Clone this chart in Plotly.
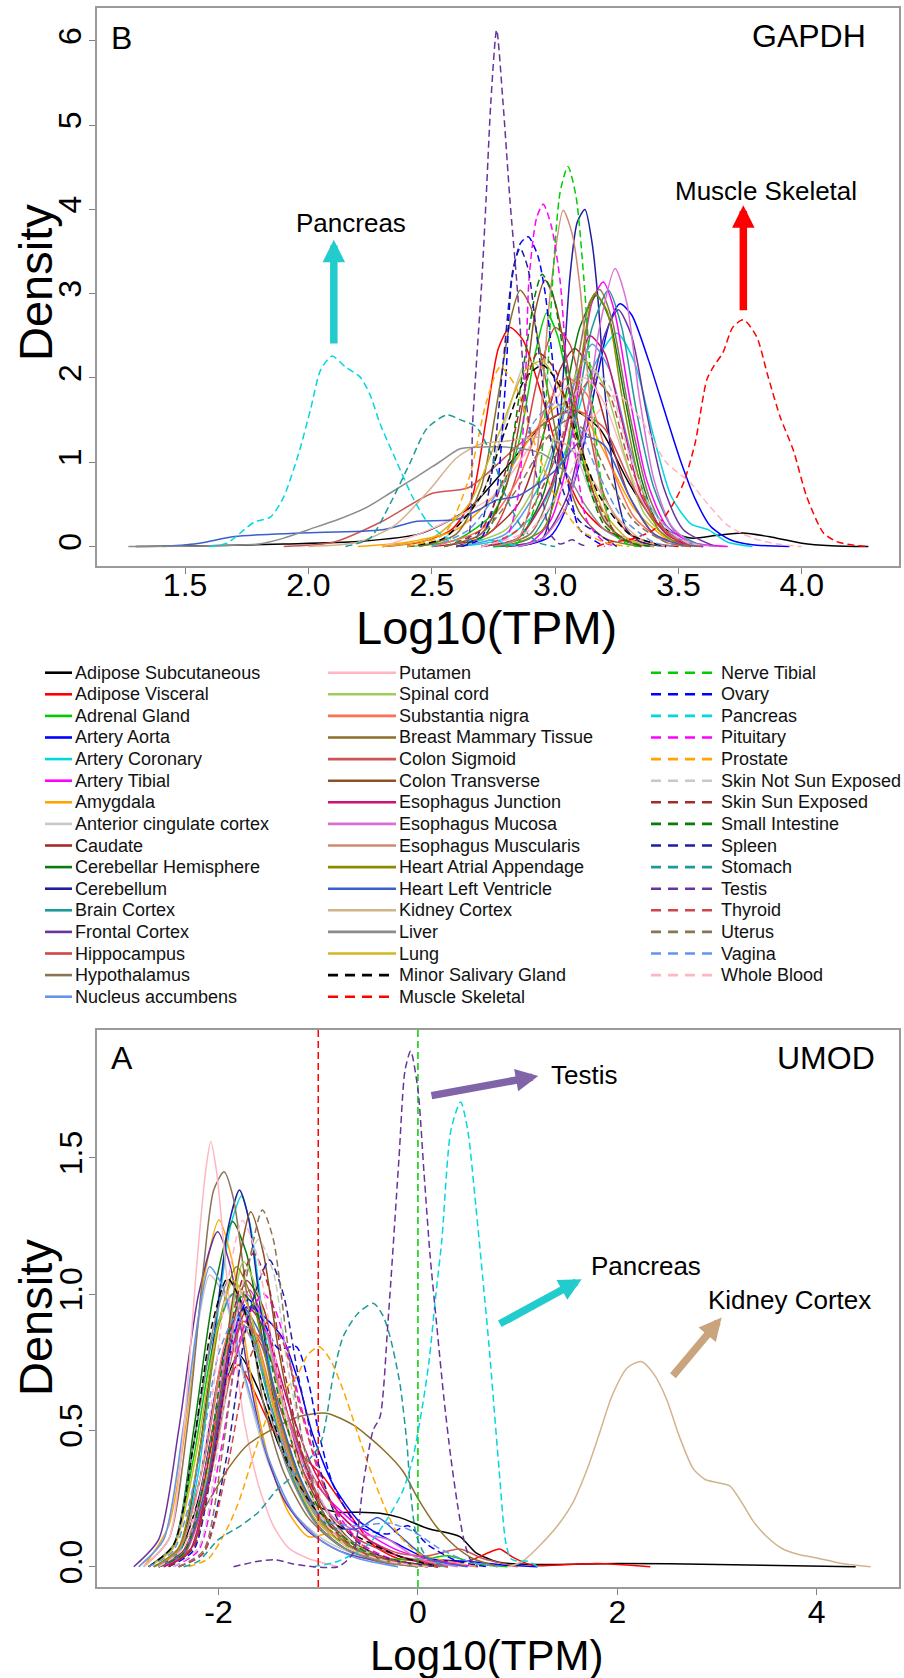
import plotly.graph_objects as go

W, H = 904, 1678
FONT = "Liberation Sans, Arial, Helvetica, sans-serif"

TISSUES = [
    "Adipose Subcutaneous", "Adipose Visceral", "Adrenal Gland", "Artery Aorta",
    "Artery Coronary", "Artery Tibial", "Amygdala", "Anterior cingulate cortex",
    "Caudate", "Cerebellar Hemisphere", "Cerebellum", "Brain Cortex",
    "Frontal Cortex", "Hippocampus", "Hypothalamus", "Nucleus accumbens",
    "Putamen", "Spinal cord", "Substantia nigra", "Breast Mammary Tissue",
    "Colon Sigmoid", "Colon Transverse", "Esophagus Junction", "Esophagus Mucosa",
    "Esophagus Muscularis", "Heart Atrial Appendage", "Heart Left Ventricle",
    "Kidney Cortex", "Liver", "Lung", "Minor Salivary Gland", "Muscle Skeletal",
    "Nerve Tibial", "Ovary", "Pancreas", "Pituitary", "Prostate",
    "Skin Not Sun Exposed", "Skin Sun Exposed", "Small Intestine", "Spleen",
    "Stomach", "Testis", "Thyroid", "Uterus", "Vagina", "Whole Blood",
]

PALETTE = [
    "#000000", "#FF0000", "#00CD00", "#0000FF", "#00D8E0", "#FF00FF", "#FFA500",
    "#C8C8C8", "#A52A2A", "#0A7A0A", "#1F1F9E", "#1E9A9A", "#68349C", "#D04545",
    "#8B7355", "#6495ED", "#FFB6C1", "#A2CD5A", "#FF6F52", "#8B6F2A", "#CD5555",
    "#8E5025", "#CD1076", "#DA70D6", "#D08A70", "#8B8B00", "#3A5FCD", "#D2B48C",
    "#8C8C8C", "#D4B420",
]
COLORS = PALETTE + PALETTE[:17]
DASHED = [False] * 30 + [True] * 17

# ---- GAPDH density curves (Log10(TPM), density) ----
GAPDH_PTS = [
    [[1.30,0],[1.6,0.01],[1.9,0.03],[2.2,0.06],[2.45,0.15],[2.65,0.45],[2.82,1.0],[2.95,1.45],[3.07,1.62],[3.18,1.4],[3.3,0.75],[3.42,0.25],[3.55,0.1],[3.65,0.13],[3.76,0.16],[3.88,0.11],[4.0,0.04],[4.12,0.01],[4.27,0]],
    [[2.3,0],[2.45,0.05],[2.58,0.2],[2.66,0.55],[2.72,1.5],[2.77,2.35],[2.817,2.6],[2.87,2.45],[2.94,1.85],[3.02,1.05],[3.1,0.5],[3.2,0.2],[3.35,0.05],[3.5,0]],
    [[2.4,0],[2.6,0.08],[2.75,0.4],[2.85,1.2],[2.92,2.3],[2.966,2.77],[3.01,2.5],[3.08,1.5],[3.15,0.6],[3.25,0.15],[3.4,0]],
    [[2.75,0],[2.9,0.03],[2.98,0.12],[3.03,0.35],[3.1,1.0],[3.17,2.0],[3.22,2.65],[3.263,2.88],[3.31,2.75],[3.38,2.2],[3.45,1.55],[3.507,1.03],[3.57,0.55],[3.63,0.24],[3.71,0.08],[3.8,0.02],[3.95,0]],
    [[2.6,0],[2.8,0.1],[2.95,0.5],[3.05,1.2],[3.15,2.1],[3.25,2.53],[3.32,2.2],[3.4,1.3],[3.47,0.6],[3.55,0.27],[3.62,0.2],[3.7,0.05],[3.8,0]],
    [[2.8,0],[2.9,0.05],[2.98,0.3],[3.05,1.0],[3.1,2.0],[3.15,2.9],[3.195,3.14],[3.24,2.8],[3.3,1.8],[3.37,0.8],[3.45,0.25],[3.55,0.05],[3.7,0]],
    [[2.2,0],[2.4,0.05],[2.6,0.2],[2.75,0.6],[2.9,1.3],[3.0,1.65],[3.05,1.7],[3.12,1.55],[3.22,1.0],[3.32,0.45],[3.45,0.1],[3.6,0]],
    [[2.4,0],[2.55,0.1],[2.7,0.6],[2.8,1.5],[2.885,2.2],[2.95,2.1],[3.05,1.4],[3.15,0.6],[3.25,0.15],[3.4,0]],
    [[2.5,0],[2.7,0.1],[2.85,0.5],[2.95,1.3],[3.02,2.1],[3.08,2.35],[3.14,2.1],[3.22,1.3],[3.3,0.6],[3.4,0.15],[3.55,0]],
    [[2.7,0],[2.85,0.1],[2.95,0.6],[3.03,1.6],[3.1,2.6],[3.168,2.98],[3.22,2.7],[3.28,1.8],[3.35,0.8],[3.42,0.25],[3.55,0]],
    [[2.85,0],[2.95,0.1],[3.0,0.7],[3.03,1.9],[3.06,3.2],[3.09,3.85],[3.121,4.0],[3.15,3.6],[3.172,3.0],[3.2,1.9],[3.24,0.8],[3.29,0.2],[3.35,0.05],[3.45,0]],
    [[2.75,0],[2.9,0.1],[3.0,0.6],[3.08,1.5],[3.15,2.6],[3.216,3.04],[3.27,2.6],[3.33,1.6],[3.4,0.7],[3.48,0.2],[3.6,0]],
    [[2.8,0],[2.95,0.1],[3.05,0.6],[3.13,1.6],[3.2,2.5],[3.256,2.81],[3.31,2.5],[3.37,1.6],[3.44,0.7],[3.52,0.2],[3.65,0]],
    [[2.6,0],[2.75,0.2],[2.85,0.9],[2.93,2.0],[3.0,2.6],[3.06,2.4],[3.13,1.5],[3.2,0.6],[3.3,0.15],[3.45,0]],
    [[2.75,0],[2.9,0.15],[3.0,0.8],[3.08,2.0],[3.14,2.9],[3.18,3.05],[3.23,2.7],[3.3,1.6],[3.38,0.6],[3.46,0.15],[3.6,0]],
    [[2.6,0],[2.8,0.15],[2.95,0.8],[3.05,1.7],[3.15,2.4],[3.22,2.1],[3.3,1.2],[3.38,0.5],[3.5,0.1],[3.6,0]],
    [[2.3,0],[2.45,0.15],[2.6,0.35],[2.75,0.6],[2.9,1.2],[3.03,1.85],[3.12,2.0],[3.2,1.7],[3.3,0.9],[3.4,0.3],[3.55,0]],
    [[2.6,0],[2.8,0.2],[2.95,0.9],[3.05,1.8],[3.12,2.2],[3.2,1.9],[3.28,1.1],[3.36,0.4],[3.48,0.05],[3.6,0]],
    [[2.5,0],[2.7,0.2],[2.85,0.8],[2.97,1.7],[3.05,2.0],[3.13,1.8],[3.22,1.0],[3.32,0.35],[3.45,0.05],[3.55,0]],
    [[2.45,0],[2.6,0.15],[2.7,0.7],[2.77,1.8],[2.82,2.7],[2.858,3.04],[2.9,2.85],[2.96,2.0],[3.03,1.0],[3.1,0.4],[3.2,0.1],[3.35,0]],
    [[1.9,0],[2.1,0.05],[2.3,0.3],[2.5,0.63],[2.65,0.7],[2.85,1.2],[3.0,1.55],[3.1,1.6],[3.2,1.4],[3.3,0.8],[3.4,0.3],[3.55,0]],
    [[2.55,0],[2.7,0.15],[2.8,0.7],[2.88,1.9],[2.92,2.8],[2.959,3.16],[3.0,2.9],[3.06,2.0],[3.13,0.9],[3.2,0.3],[3.3,0.05],[3.4,0]],
    [[2.7,0],[2.85,0.1],[2.98,0.7],[3.07,1.7],[3.14,2.5],[3.2,2.3],[3.27,1.5],[3.35,0.6],[3.45,0.15],[3.55,0]],
    [[2.85,0],[2.95,0.1],[3.05,0.5],[3.12,1.4],[3.18,2.6],[3.243,3.3],[3.29,2.9],[3.34,1.8],[3.4,0.8],[3.47,0.25],[3.55,0.05],[3.65,0]],
    [[2.75,0],[2.85,0.1],[2.9,0.5],[2.94,1.5],[2.98,3.0],[3.033,3.99],[3.07,3.7],[3.1,3.1],[3.14,1.8],[3.19,0.6],[3.25,0.12],[3.35,0]],
    [[2.8,0],[2.95,0.2],[3.03,0.9],[3.1,2.1],[3.16,3.0],[3.21,2.8],[3.27,1.8],[3.34,0.8],[3.42,0.2],[3.52,0]],
    [[1.41,0],[1.56,0.04],[1.7,0.12],[1.97,0.16],[2.3,0.2],[2.44,0.3],[2.6,0.32],[2.7,0.45],[2.76,0.55],[2.85,0.6],[3.0,0.9],[3.12,1.3],[3.2,1.2],[3.3,0.6],[3.4,0.15],[3.5,0.03],[3.6,0]],
    [[2.0,0],[2.2,0.05],[2.35,0.25],[2.49,0.67],[2.6,1.05],[2.7,1.22],[2.8,1.25],[2.95,1.3],[3.05,1.2],[3.15,0.8],[3.25,0.35],[3.35,0.08],[3.45,0]],
    [[1.27,0],[1.6,0.01],[1.8,0.03],[1.9,0.1],[2.0,0.2],[2.12,0.32],[2.24,0.47],[2.34,0.65],[2.44,0.83],[2.53,1.0],[2.615,1.16],[2.7,1.18],[2.8,1.18],[2.95,1.1],[3.05,0.85],[3.12,0.5],[3.2,0.2],[3.3,0.05],[3.4,0]],
    [[2.3,0],[2.5,0.1],[2.65,0.5],[2.78,1.4],[2.88,2.1],[2.95,2.2],[3.03,1.8],[3.12,1.0],[3.2,0.4],[3.3,0.08],[3.4,0]],
    [[2.4,0],[2.55,0.1],[2.7,0.6],[2.8,1.4],[2.88,2.0],[2.95,2.15],[3.02,1.9],[3.1,1.2],[3.18,0.6],[3.3,0.15],[3.45,0]],
    [[3.17,0],[3.22,0.05],[3.3,0.08],[3.4,0.2],[3.473,0.48],[3.52,0.75],[3.567,1.22],[3.615,1.98],[3.641,2.13],[3.68,2.3],[3.72,2.6],[3.763,2.69],[3.817,2.49],[3.86,2.05],[3.912,1.54],[3.966,1.14],[4.02,0.59],[4.088,0.16],[4.14,0.06],[4.2,0.02],[4.27,0]],
    [[2.75,0],[2.85,0.05],[2.92,0.5],[2.96,1.6],[2.99,3.16],[3.02,4.2],[3.052,4.51],[3.085,4.15],[3.117,3.16],[3.15,1.8],[3.19,0.7],[3.24,0.15],[3.3,0.02],[3.35,0]],
    [[2.62,0],[2.7,0.1],[2.76,0.6],[2.8,2.0],[2.824,3.16],[2.86,3.6],[2.891,3.675],[2.93,3.45],[2.96,3.0],[2.99,2.2],[3.03,1.1],[3.07,0.5],[3.1,0.2],[3.2,0]],
    [[1.6,0],[1.67,0.04],[1.74,0.2],[1.78,0.29],[1.846,0.35],[1.9,0.59],[1.96,1.1],[2.008,1.62],[2.05,2.1],[2.096,2.26],[2.15,2.13],[2.21,2.01],[2.25,1.8],[2.29,1.46],[2.36,0.99],[2.42,0.6],[2.48,0.3],[2.55,0.12],[2.62,0.06],[2.7,0.08],[2.76,0.07],[2.82,0.02],[2.86,0]],
    [[2.7,0],[2.8,0.1],[2.85,0.6],[2.88,2.0],[2.894,3.16],[2.925,3.9],[2.952,4.06],[2.985,3.8],[3.02,3.16],[3.05,2.0],[3.09,0.9],[3.13,0.3],[3.2,0.05],[3.25,0]],
    [[2.4,0],[2.55,0.15],[2.65,0.8],[2.72,1.7],[2.777,2.13],[2.84,1.9],[2.92,1.2],[3.0,0.6],[3.1,0.2],[3.2,0.05],[3.3,0]],
    [[2.7,0],[2.85,0.2],[2.98,0.9],[3.08,1.8],[3.15,2.1],[3.22,1.9],[3.3,1.1],[3.4,0.4],[3.5,0.1],[3.6,0]],
    [[2.55,0],[2.7,0.2],[2.8,0.9],[2.87,1.8],[2.93,2.3],[3.0,2.1],[3.08,1.3],[3.16,0.6],[3.25,0.15],[3.35,0]],
    [[2.6,0],[2.72,0.15],[2.8,0.8],[2.87,2.1],[2.92,3.0],[2.947,3.23],[2.99,3.0],[3.05,2.0],[3.12,0.9],[3.2,0.25],[3.3,0.05],[3.4,0]],
    [[2.6,0],[2.68,0.1],[2.74,0.8],[2.79,2.2],[2.83,3.3],[2.858,3.54],[2.89,3.3],[2.93,2.4],[2.98,1.3],[3.04,0.6],[3.1,0.3],[3.17,0.16],[3.25,0]],
    [[2.15,0],[2.25,0.1],[2.33,0.5],[2.41,0.98],[2.48,1.4],[2.561,1.56],[2.62,1.5],[2.68,1.42],[2.74,1.1],[2.8,0.6],[2.86,0.25],[2.93,0.05],[3.0,0]],
    [[2.6,0],[2.643,0.05],[2.666,1.48],[2.703,3.16],[2.72,4.11],[2.74,5.3],[2.763,6.13],[2.788,5.3],[2.817,4.11],[2.844,3.16],[2.88,1.8],[2.92,0.9],[2.952,0.52],[2.98,0.15],[3.02,0.03],[3.07,0.08],[3.1,0.03],[3.13,0]],
    [[2.7,0],[2.85,0.2],[2.98,0.9],[3.08,1.7],[3.15,2.0],[3.22,1.8],[3.3,1.0],[3.4,0.35],[3.5,0.05],[3.6,0]],
    [[2.55,0],[2.7,0.15],[2.85,0.7],[2.97,1.3],[3.05,1.5],[3.13,1.35],[3.22,0.8],[3.32,0.3],[3.45,0.05],[3.55,0]],
    [[2.5,0],[2.65,0.2],[2.8,0.8],[2.92,1.5],[3.0,1.7],[3.08,1.5],[3.17,0.9],[3.27,0.35],[3.4,0.05],[3.5,0]],
    [[2.7,0],[2.9,0.2],[3.05,0.8],[3.15,1.5],[3.25,1.8],[3.35,1.5],[3.45,1.0],[3.55,0.75],[3.62,0.5],[3.7,0.25],[3.8,0.1],[3.9,0.03],[4.0,0]],
]

# ---- UMOD density curves ----
UMOD_PTS = [
    [[-2.6,0],[-2.4,0.05],[-2.2,0.25],[-2.0,0.6],[-1.794,0.777],[-1.6,0.65],[-1.4,0.45],[-1.2,0.3],[-1.0,0.22],[-0.8,0.2],[-0.6,0.2],[-0.38,0.196],[-0.18,0.18],[0.1,0.14],[0.42,0.11],[0.58,0.052],[0.81,0.016],[1.2,0.008],[2.0,0.012],[3.0,0.008],[4.39,0]],
    [[-2.55,0],[-2.35,0.05],[-2.15,0.3],[-1.95,0.65],[-1.8,0.74],[-1.65,0.65],[-1.45,0.5],[-1.2,0.42],[-0.95,0.33],[-0.7,0.2],[-0.45,0.08],[-0.2,0.03],[0.2,0.02],[0.5,0.02],[0.7,0.05],[0.82,0.065],[0.95,0.035],[1.15,0.005],[1.5,0.008],[1.8,0.012],[2.1,0.006],[2.33,0]],
    [[-2.7,0],[-2.45,0.08],[-2.25,0.4],[-2.05,0.82],[-1.86,1.0],[-1.7,0.9],[-1.5,0.62],[-1.25,0.35],[-1.0,0.18],[-0.7,0.08],[-0.3,0.03],[0.1,0.03],[0.3,0.04],[0.6,0.01],[0.9,0]],
    [[-2.6,0],[-2.4,0.06],[-2.2,0.3],[-2.0,0.7],[-1.85,0.9],[-1.71,0.954],[-1.55,0.92],[-1.36,0.84],[-1.2,0.68],[-1.06,0.49],[-0.85,0.3],[-0.6,0.17],[-0.4,0.12],[-0.22,0.086],[0.1,0.03],[0.5,0.02],[0.9,0.005],[1.2,0]],
    [[-2.65,0],[-2.4,0.05],[-2.2,0.35],[-2.0,0.95],[-1.88,1.25],[-1.77,1.36],[-1.68,1.25],[-1.55,0.9],[-1.4,0.55],[-1.2,0.3],[-0.95,0.15],[-0.6,0.06],[-0.2,0.02],[0.3,0]],
    [[-2.6,0],[-2.35,0.05],[-2.1,0.3],[-1.9,0.75],[-1.69,1.015],[-1.5,0.85],[-1.3,0.55],[-1.1,0.35],[-0.9,0.25],[-0.7,0.18],[-0.5,0.12],[-0.2,0.06],[0.2,0.02],[0.6,0]],
    [[-2.75,0],[-2.5,0.15],[-2.3,0.6],[-2.15,1.05],[-1.995,1.272],[-1.85,1.1],[-1.7,0.75],[-1.5,0.4],[-1.3,0.2],[-1.1,0.11],[-0.9,0.12],[-0.7,0.08],[-0.4,0.03],[0.0,0]],
    [[-2.8,0],[-2.55,0.1],[-2.35,0.5],[-2.2,0.9],[-2.09,1.07],[-1.95,1.0],[-1.75,0.7],[-1.5,0.38],[-1.25,0.2],[-0.95,0.1],[-0.6,0.04],[-0.2,0]],
    [[-2.6,0],[-2.35,0.06],[-2.1,0.35],[-1.9,0.8],[-1.72,1.05],[-1.55,0.95],[-1.35,0.62],[-1.15,0.35],[-0.9,0.17],[-0.6,0.07],[-0.2,0.02],[0.2,0]],
    [[-2.7,0],[-2.45,0.08],[-2.25,0.5],[-2.05,1.0],[-1.86,1.266],[-1.72,1.15],[-1.55,0.82],[-1.35,0.5],[-1.1,0.25],[-0.8,0.1],[-0.4,0.03],[0.1,0]],
    [[-2.65,0],[-2.4,0.06],[-2.2,0.4],[-2.0,0.98],[-1.9,1.25],[-1.79,1.382],[-1.7,1.28],[-1.58,0.95],[-1.45,0.62],[-1.25,0.32],[-1.0,0.15],[-0.7,0.06],[-0.3,0.02],[0.1,0]],
    [[-2.7,0],[-2.45,0.08],[-2.25,0.45],[-2.05,0.85],[-1.85,1.0],[-1.68,0.9],[-1.48,0.6],[-1.25,0.32],[-1.0,0.15],[-0.7,0.06],[-0.3,0.02],[0.1,0]],
    [[-2.85,0],[-2.6,0.1],[-2.4,0.5],[-2.2,1.0],[-2.01,1.229],[-1.88,1.1],[-1.72,0.75],[-1.55,0.45],[-1.35,0.25],[-1.1,0.13],[-0.8,0.06],[-0.4,0.02],[0.0,0]],
    [[-2.6,0],[-2.35,0.05],[-2.1,0.3],[-1.9,0.72],[-1.75,0.9],[-1.58,0.82],[-1.38,0.58],[-1.15,0.35],[-0.9,0.2],[-0.6,0.1],[-0.2,0.04],[0.3,0]],
    [[-2.75,0],[-2.5,0.1],[-2.3,0.55],[-2.15,1.1],[-2.05,1.38],[-1.945,1.449],[-1.85,1.35],[-1.7,0.95],[-1.55,0.6],[-1.35,0.35],[-1.1,0.18],[-0.8,0.08],[-0.4,0.02],[0.0,0]],
    [[-2.8,0],[-2.55,0.1],[-2.35,0.52],[-2.2,0.92],[-2.09,1.1],[-1.95,1.02],[-1.75,0.72],[-1.5,0.4],[-1.25,0.2],[-0.95,0.09],[-0.6,0.03],[-0.2,0]],
    [[-2.75,0],[-2.5,0.1],[-2.35,0.5],[-2.22,1.1],[-2.13,1.45],[-2.078,1.56],[-2.02,1.45],[-1.9,1.0],[-1.75,0.55],[-1.6,0.3],[-1.45,0.15],[-1.3,0.07],[-1.1,0.03],[-0.8,0]],
    [[-2.6,0],[-2.35,0.05],[-2.1,0.35],[-1.9,0.85],[-1.75,1.12],[-1.6,1.0],[-1.42,0.68],[-1.2,0.38],[-0.95,0.18],[-0.6,0.07],[-0.2,0.02],[0.2,0]],
    [[-2.65,0],[-2.4,0.06],[-2.15,0.38],[-1.95,0.8],[-1.8,0.95],[-1.63,0.85],[-1.43,0.58],[-1.2,0.32],[-0.95,0.16],[-0.6,0.06],[-0.2,0.02],[0.2,0]],
    [[-2.6,0],[-2.45,0.04],[-2.33,0.1],[-2.1,0.24],[-1.89,0.367],[-1.7,0.45],[-1.48,0.5],[-1.2,0.55],[-0.92,0.563],[-0.65,0.52],[-0.35,0.43],[-0.15,0.35],[0.0,0.25],[0.2,0.14],[0.37,0.076],[0.55,0.03],[0.8,0]],
    [[-2.6,0],[-2.35,0.04],[-2.1,0.3],[-1.88,0.7],[-1.7,0.88],[-1.52,0.8],[-1.3,0.55],[-1.05,0.33],[-0.8,0.2],[-0.5,0.1],[-0.2,0.05],[0.1,0.04],[0.42,0.065],[0.65,0.03],[1.0,0]],
    [[-2.5,0],[-2.25,0.08],[-2.05,0.45],[-1.85,1.0],[-1.677,1.302],[-1.55,1.15],[-1.4,0.8],[-1.2,0.45],[-0.95,0.22],[-0.65,0.09],[-0.3,0.03],[0.1,0]],
    [[-2.55,0],[-2.3,0.05],[-2.08,0.35],[-1.88,0.78],[-1.7,0.95],[-1.52,0.86],[-1.3,0.6],[-1.05,0.36],[-0.8,0.2],[-0.5,0.1],[-0.2,0.04],[0.2,0]],
    [[-2.6,0],[-2.35,0.05],[-2.12,0.38],[-1.9,0.82],[-1.72,1.0],[-1.55,0.9],[-1.35,0.6],[-1.1,0.33],[-0.85,0.18],[-0.55,0.12],[-0.3,0.1],[0.0,0.03],[0.4,0]],
    [[-2.65,0],[-2.4,0.06],[-2.15,0.38],[-1.95,0.76],[-1.8,0.9],[-1.62,0.8],[-1.42,0.55],[-1.2,0.3],[-0.95,0.15],[-0.6,0.06],[-0.2,0.02],[0.2,0]],
    [[-2.65,0],[-2.4,0.07],[-2.18,0.45],[-1.98,0.92],[-1.82,1.1],[-1.66,0.98],[-1.46,0.65],[-1.22,0.35],[-0.95,0.16],[-0.6,0.06],[-0.2,0.02],[0.2,0]],
    [[-2.6,0],[-2.35,0.05],[-2.1,0.33],[-1.9,0.78],[-1.75,0.95],[-1.58,0.85],[-1.38,0.55],[-1.15,0.3],[-0.9,0.15],[-0.6,0.14],[-0.4,0.18],[-0.2,0.12],[0.1,0.03],[0.5,0]],
    [[0.91,0],[1.05,0.02],[1.22,0.077],[1.4,0.15],[1.55,0.232],[1.7,0.36],[1.82,0.489],[1.95,0.63],[2.1,0.73],[2.24,0.753],[2.36,0.71],[2.49,0.618],[2.62,0.48],[2.76,0.36],[2.88,0.32],[3.0,0.309],[3.13,0.296],[3.24,0.24],[3.36,0.168],[3.5,0.11],[3.66,0.065],[3.82,0.045],[4.0,0.032],[4.25,0.012],[4.54,0]],
    [[-2.7,0],[-2.45,0.08],[-2.25,0.45],[-2.05,0.88],[-1.9,1.05],[-1.75,0.95],[-1.55,0.65],[-1.3,0.35],[-1.05,0.17],[-0.75,0.07],[-0.35,0.02],[0.0,0]],
    [[-2.7,0],[-2.45,0.07],[-2.22,0.42],[-2.02,0.86],[-1.85,1.05],[-1.7,0.95],[-1.5,0.66],[-1.28,0.36],[-1.02,0.17],[-0.7,0.07],[-0.3,0.02],[0.1,0]],
    [[-2.7,0],[-2.45,0.08],[-2.25,0.45],[-2.07,0.88],[-1.91,1.058],[-1.75,0.95],[-1.55,0.65],[-1.3,0.38],[-1.05,0.22],[-0.8,0.15],[-0.5,0.09],[-0.2,0.04],[0.2,0]],
    None,  # Muscle Skeletal: constant value, see UMOD_CONST
    None,  # Nerve Tibial: constant value, see UMOD_CONST
    [[-2.5,0],[-2.25,0.06],[-2.05,0.4],[-1.85,0.85],[-1.7,0.98],[-1.55,0.9],[-1.4,0.8],[-1.22,0.807],[-1.1,0.68],[-1.0,0.5],[-0.85,0.3],[-0.6,0.15],[-0.3,0.12],[-0.1,0.15],[0.1,0.08],[0.4,0.02],[0.7,0]],
    [[-1.05,0],[-0.8,0.02],[-0.5,0.08],[-0.3,0.18],[-0.15,0.28],[-0.05,0.4],[0.05,0.6],[0.11,0.75],[0.18,1.0],[0.24,1.2],[0.33,1.6],[0.428,1.705],[0.5,1.6],[0.58,1.325],[0.65,1.06],[0.713,0.81],[0.813,0.36],[0.88,0.09],[0.93,0.03],[1.0,0.02],[1.1,0.02],[1.2,0]],
    [[-2.45,0],[-2.2,0.06],[-1.98,0.42],[-1.75,0.88],[-1.55,1.0],[-1.43,0.94],[-1.25,0.7],[-1.05,0.42],[-0.85,0.22],[-0.55,0.08],[-0.2,0.02],[0.2,0]],
    [[-2.3,0],[-2.1,0.03],[-1.9,0.15],[-1.79,0.245],[-1.63,0.43],[-1.45,0.6],[-1.22,0.697],[-1.1,0.78],[-0.99,0.807],[-0.88,0.76],[-0.75,0.648],[-0.55,0.43],[-0.35,0.233],[-0.2,0.12],[0.0,0.05],[0.3,0.02],[0.6,0]],
    [[-2.45,0],[-2.2,0.07],[-1.98,0.5],[-1.78,1.0],[-1.6,1.2],[-1.45,1.08],[-1.3,0.72],[-1.1,0.38],[-0.85,0.16],[-0.55,0.06],[-0.2,0.02],[0.2,0]],
    [[-2.5,0],[-2.25,0.07],[-2.02,0.48],[-1.82,0.98],[-1.65,1.15],[-1.5,1.03],[-1.33,0.7],[-1.12,0.36],[-0.88,0.15],[-0.55,0.05],[-0.2,0.02],[0.2,0]],
    [[-2.6,0],[-2.35,0.05],[-2.12,0.36],[-1.92,0.82],[-1.75,1.0],[-1.58,0.9],[-1.38,0.6],[-1.15,0.33],[-0.9,0.16],[-0.55,0.06],[-0.2,0.02],[0.2,0]],
    [[-2.4,0],[-2.15,0.05],[-1.92,0.4],[-1.7,0.92],[-1.49,1.125],[-1.35,1.0],[-1.2,0.7],[-1.0,0.38],[-0.8,0.17],[-0.5,0.06],[-0.2,0.02],[0.2,0]],
    [[-2.35,0],[-2.2,0.02],[-2.0,0.1],[-1.78,0.15],[-1.6,0.2],[-1.42,0.28],[-1.2,0.35],[-0.98,0.45],[-0.85,0.7],[-0.75,0.844],[-0.6,0.93],[-0.445,0.966],[-0.35,0.92],[-0.28,0.844],[-0.18,0.67],[-0.11,0.45],[-0.08,0.3],[-0.02,0.12],[0.06,0.05],[0.15,0.02],[0.3,0]],
    [[-1.85,0],[-1.6,0.02],[-1.43,0.025],[-1.25,0.01],[-1.05,0],[-0.8,0],[-0.65,0.05],[-0.55,0.3],[-0.45,0.5],[-0.38,0.55],[-0.3,0.9],[-0.19,1.5],[-0.13,1.82],[-0.073,1.892],[0.0,1.75],[0.06,1.45],[0.12,1.15],[0.19,0.88],[0.26,0.62],[0.33,0.4],[0.4,0.22],[0.46,0.1],[0.52,0.03],[0.6,0]],
    [[-2.4,0],[-2.15,0.05],[-1.92,0.35],[-1.7,0.75],[-1.5,0.9],[-1.35,0.82],[-1.18,0.58],[-0.98,0.33],[-0.75,0.15],[-0.45,0.05],[-0.1,0.01],[0.3,0]],
    [[-2.4,0],[-2.15,0.06],[-1.95,0.45],[-1.75,1.0],[-1.56,1.309],[-1.45,1.2],[-1.32,0.85],[-1.15,0.45],[-0.95,0.2],[-0.65,0.07],[-0.3,0.02],[0.1,0]],
    [[-2.7,0],[-2.45,0.06],[-2.2,0.38],[-2.0,0.78],[-1.82,0.92],[-1.65,0.82],[-1.45,0.55],[-1.2,0.3],[-0.95,0.17],[-0.6,0.15],[-0.3,0.16],[-0.05,0.13],[0.2,0.07],[0.5,0.02],[0.8,0]],
    [[-2.6,0],[-2.35,0.07],[-2.13,0.45],[-1.92,1.02],[-1.76,1.27],[-1.62,1.15],[-1.45,0.8],[-1.25,0.45],[-1.0,0.2],[-0.7,0.07],[-0.3,0.02],[0.1,0]],
]
# tissues whose UMOD values are all identical (drawn as a vertical line)
UMOD_CONST = {"Muscle Skeletal": -1.0, "Nerve Tibial": 0.0}

GAPDH_XTICKS = [1.5, 2.0, 2.5, 3.0, 3.5, 4.0]
GAPDH_XTEXT = ["1.5", "2.0", "2.5", "3.0", "3.5", "4.0"]
GAPDH_YTICKS = [0, 1, 2, 3, 4, 5, 6]
UMOD_XTICKS = [-2, 0, 2, 4]
UMOD_XTEXT = ["-2", "0", "2", "4"]
UMOD_YTICKS = [0, 0.5, 1.0, 1.5]
UMOD_YTEXT = ["0.0", "0.5", "1.0", "1.5"]

GAPDH_XRANGE = [1.143, 4.394]
GAPDH_YRANGE = [-0.231, 6.39]
UMOD_XRANGE = [-3.219, 4.825]
UMOD_YRANGE = [-0.0745, 1.969]


def px_x(p):
    return p / W


def px_y(p):
    return 1 - p / H


fig = go.Figure()

CURVE_W = 1.5
DASH_CURVE = "7px,4px"

for i, name in enumerate(TISSUES):
    pts = GAPDH_PTS[i]
    fig.add_trace(go.Scatter(
        x=[p[0] for p in pts], y=[p[1] for p in pts], mode="lines",
        name=name, showlegend=False, xaxis="x", yaxis="y",
        line=dict(color=COLORS[i], width=CURVE_W, shape="spline", smoothing=0.7,
                  dash=DASH_CURVE if DASHED[i] else "solid"),
        hoverinfo="skip"))

for i, name in enumerate(TISSUES):
    pts = UMOD_PTS[i]
    if pts is None:
        v = UMOD_CONST[name]
        xs, ys = [v, v], [UMOD_YRANGE[0], UMOD_YRANGE[1]]
        shape = "linear"
    else:
        xs, ys = [p[0] for p in pts], [p[1] for p in pts]
        shape = "spline"
    fig.add_trace(go.Scatter(
        x=xs, y=ys, mode="lines", name=name, showlegend=False,
        xaxis="x2", yaxis="y2",
        line=dict(color=COLORS[i], width=CURVE_W, shape=shape, smoothing=0.7,
                  dash=DASH_CURVE if DASHED[i] else "solid"),
        hoverinfo="skip"))

FRAME = "#9a9a9a"
TICKF = dict(family=FONT, size=32, color="#000")
axis_common = dict(showgrid=False, zeroline=False, showline=True, mirror=True,
                   linecolor=FRAME, linewidth=1.5, ticks="outside", ticklen=6,
                   tickcolor="#808080", tickwidth=1.2, tickfont=TICKF)

xdom = [px_x(97), px_x(899)]
fig.update_layout(
    width=W, height=H, margin=dict(l=0, r=0, t=0, b=0),
    paper_bgcolor="white", plot_bgcolor="white", showlegend=False,
    xaxis=dict(domain=xdom, range=GAPDH_XRANGE, anchor="y", tickvals=GAPDH_XTICKS,
               ticktext=GAPDH_XTEXT, ticklabelstandoff=-16, **axis_common),
    yaxis=dict(domain=[px_y(566), px_y(8)], range=GAPDH_YRANGE, anchor="x",
               tickvals=GAPDH_YTICKS, tickangle=-90, ticklabelstandoff=-5, **axis_common),
    xaxis2=dict(domain=xdom, range=UMOD_XRANGE, anchor="y2", tickvals=UMOD_XTICKS,
                ticktext=UMOD_XTEXT, ticklabelstandoff=-10, **axis_common),
    yaxis2=dict(domain=[px_y(1587), px_y(1030)], range=UMOD_YRANGE, anchor="x2",
                tickvals=UMOD_YTICKS, ticktext=UMOD_YTEXT, tickangle=-90,
                ticklabelstandoff=-6, **axis_common),
)

ann = []


def text_ann(txt, x, y, size, xanchor="center", angle=0):
    ann.append(dict(text=txt, x=px_x(x), y=px_y(y), xref="paper", yref="paper",
                    showarrow=False, xanchor=xanchor, yanchor="middle",
                    textangle=angle, font=dict(family=FONT, size=size, color="#000")))


# axis titles
text_ann("Log10(TPM)", 486, 628, 47)
text_ann("Log10(TPM)", 486, 1655, 42)
text_ann("Density", 35, 283, 47, angle=-90)
text_ann("Density", 35, 1318, 47, angle=-90)
# panel labels
text_ann("B", 122, 38, 32)
text_ann("GAPDH", 809, 36, 32)
text_ann("A", 122, 1058, 32)
text_ann("UMOD", 826, 1058, 32)
# callout texts
text_ann("Pancreas", 294, 223, 26, xanchor="left")
text_ann("Muscle Skeletal", 673, 191, 26, xanchor="left")
text_ann("Testis", 549, 1075, 26, xanchor="left")
text_ann("Pancreas", 589, 1266, 26, xanchor="left")
text_ann("Kidney Cortex", 706, 1300, 26, xanchor="left")

# arrows (data coordinates: tail -> head)
ARROWS = [
    ("x", "y", 2.103, 2.39, 2.103, 3.64, "#22CCCC"),
    ("x", "y", 3.763, 2.786, 3.763, 4.05, "#FF0000"),
    ("x2", "y2", 0.121, 1.727, 1.207, 1.80, "#8064A8"),
    ("x2", "y2", 0.806, 0.888, 1.642, 1.055, "#22CCCC"),
    ("x2", "y2", 2.545, 0.695, 3.046, 0.914, "#C9A47D"),
]
for xr, yr, tx, ty, hx, hy, col in ARROWS:
    ann.append(dict(text="", x=hx, y=hy, ax=tx, ay=ty, xref=xr, yref=yr,
                    axref=xr, ayref=yr, showarrow=True, arrowhead=2,
                    arrowsize=0.6, arrowwidth=7.5, arrowcolor=col, standoff=0))

# legend (3 columns)
shapes = []
COL_LINE = [(45, 72), (328, 396), (651, 718)]
ROW0, ROWH = 672.7, 21.6
for i, name in enumerate(TISSUES):
    col = 0 if i < 16 else (1 if i < 32 else 2)
    row = i - 16 * col
    y = ROW0 + ROWH * row
    x0, x1 = COL_LINE[col]
    shapes.append(dict(type="line", xref="paper", yref="paper",
                       x0=px_x(x0), x1=px_x(x1), y0=px_y(y), y1=px_y(y),
                       line=dict(color=COLORS[i], width=2.6,
                                 dash="10px,7px" if DASHED[i] else "solid")))
    ann.append(dict(text=name, x=px_x(x1 + 1), y=px_y(y), xref="paper", yref="paper",
                    showarrow=False, xanchor="left", yanchor="middle",
                    font=dict(family=FONT, size=18, color="#111")))

fig.update_layout(annotations=ann, shapes=shapes)
fig.write_html("out.html")
